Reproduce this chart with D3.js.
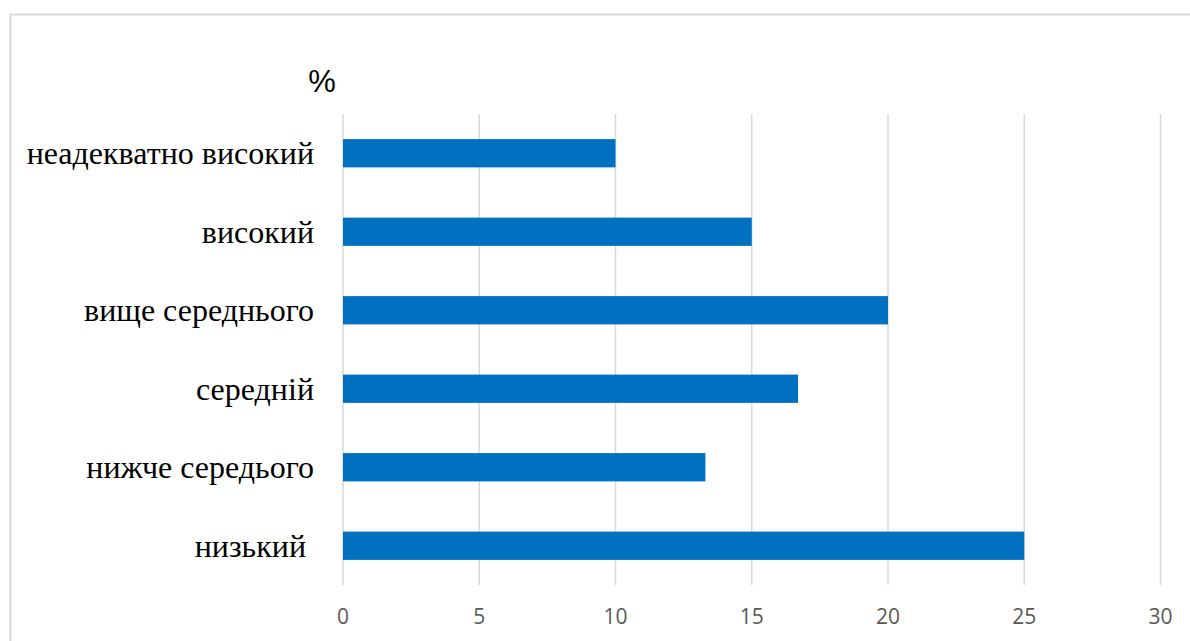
<!DOCTYPE html>
<html>
<head>
<meta charset="utf-8">
<script src="https://cdn.jsdelivr.net/npm/d3@7"></script>
<style>
  body { margin: 0; background: #fff; }
  svg { display: block; }
</style>
</head>
<body>
<svg id="chart" width="1190" height="641"></svg>
<script>
// categories top to bottom, values in %
let categories = ['неадекватно високий', 'високий', 'вище середнього', 'середній', 'нижче середього', 'низький '];
let values = [10, 15, 20, 16.7, 13.3, 25];
let ticks = [0, 5, 10, 15, 20, 25, 30];

let svg = d3.select('#chart');

// outer chart border
svg.append('rect')
	.attr('x', 10.5)
	.attr('y', 14.5)
	.attr('width', 1200)
	.attr('height', 700)
	.attr('fill', 'none')
	.attr('stroke', '#d9d9d9')
	.attr('stroke-width', 2);

let x = d3.scaleLinear()
	.domain([0, 30])
	.range([343, 1160.5]);

let y = d3.scaleBand()
	.domain(categories)
	.range([114, 585])
	.paddingInner(0.64)
	.paddingOuter(0.32);

// gridlines
svg.append('g')
	.selectAll('line')
	.data(ticks)
	.enter()
	.append('line')
	.attr('x1', d => x(d))
	.attr('x2', d => x(d))
	.attr('y1', 114)
	.attr('y2', 585)
	.attr('stroke', '#d9d9d9')
	.attr('stroke-width', 1.5);

// bars
svg.append('g')
	.selectAll('rect')
	.data(values)
	.enter()
	.append('rect')
	.attr('x', x(0))
	.attr('y', (d, i) => y(categories[i]))
	.attr('width', d => x(d) - x(0))
	.attr('height', y.bandwidth())
	.attr('fill', '#0070c0');

// category labels
svg.append('g')
	.selectAll('text')
	.data(categories)
	.enter()
	.append('text')
	.attr('x', 314)
	.attr('y', d => y(d) + y.bandwidth() / 2 + 11)
	.attr('text-anchor', 'end')
	.style('white-space', 'pre')
	.style('font-family', '"Liberation Serif", "Times New Roman", serif')
	.style('font-size', '32px')
	.attr('fill', '#000')
	.text(d => d);

// x tick labels
svg.append('g')
	.selectAll('text')
	.data(ticks)
	.enter()
	.append('text')
	.attr('x', d => x(d))
	.attr('y', 624)
	.attr('text-anchor', 'middle')
	.style('font-family', '"Open Sans", sans-serif')
	.style('font-size', '21px')
	.attr('fill', '#595959')
	.text(d => d);

// unit label
svg.append('text')
	.attr('x', 322)
	.attr('y', 92)
	.attr('text-anchor', 'middle')
	.style('font-family', '"Liberation Sans", Arial, sans-serif')
	.style('font-size', '31px')
	.attr('fill', '#000')
	.text('%');
</script>
</body>
</html>
